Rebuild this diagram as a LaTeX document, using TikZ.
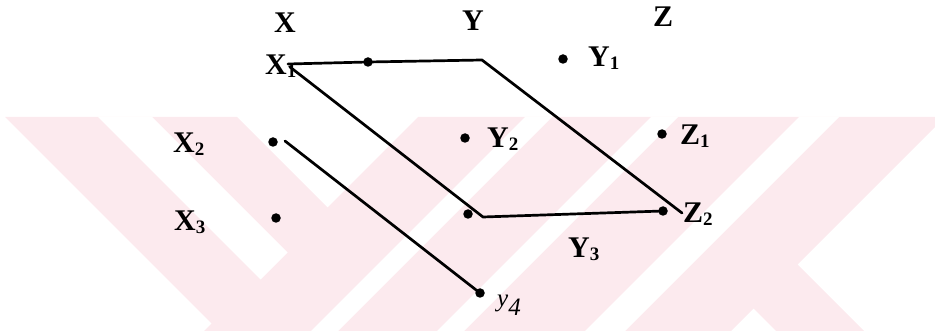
\documentclass[tikz,border=0pt]{standalone}
\usepackage{fontspec}
\setmainfont{Liberation Serif}
\definecolor{wm}{RGB}{252,234,238}
\tikzset{
  dot/.style={circle, fill=black, inner sep=0pt, minimum size=9.5pt},
  lab/.style={inner sep=0pt, anchor=base west, font=\fontsize{30}{30}\bfseries\selectfont},
  hand/.style={inner sep=0pt, anchor=base west, font=\fontsize{25}{25}\itshape\selectfont},
  conn/.style={line width=2.7pt, line join=round, line cap=round},
}
\newcommand{\sublab}[1]{\raisebox{-3pt}{\fontsize{19}{19}\selectfont #1}}
\begin{document}
\begin{tikzpicture}[x=1pt,y=-1pt]
\useasboundingbox (0,0) rectangle (935,331);
% watermark
\begin{scope}
\clip (0,0) rectangle (935,331);
\fill[wm] (5,117) -- (237,117) -- (451,331) -- (219,331) -- cycle;
\fill[wm] (418,117) -- (945,117) -- (731,331) -- (204,331) -- cycle;
\fill[wm] (709,264) -- (797,264) -- (864,331) -- (776,331) -- cycle;
\fill[white] (98,117) -- (152,117) -- (287.5,252.5) -- (260.5,279.5) -- cycle;
\fill[white] (525,117) -- (552,117) -- (338,331) -- (311,331) -- cycle;
\fill[white] (651,117) -- (678,117) -- (464,331) -- (437,331) -- cycle;
\fill[white] (799,117) -- (839,117) -- (625,331) -- (585,331) -- cycle;
\end{scope}
% labels
\node[lab] (lX) at (274,33) {X};
\node[lab] (lY) at (462,31) {Y};
\node[lab] (lZ) at (653,27) {Z};
\node[lab] (lX1) at (265,75) {X\sublab{1}};
\node[lab] (lY1) at (588,67) {Y\sublab{1}};
\node[lab] (lX2) at (173,153) {X\sublab{2}};
\node[lab] (lX3) at (174,231) {X\sublab{3}};
\node[lab] (lY2) at (487,148) {Y\sublab{2}};
\node[lab] (lZ1) at (680,145) {Z\sublab{1}};
\node[lab] (lZ2) at (683,223) {Z\sublab{2}};
\node[lab] (lY3) at (568,258) {Y\sublab{3}};
\node[hand] (lY4) at (497,307) {y\raisebox{-9pt}{4}};
% dots
\node[dot] (d1) at (368,62) {};
\node[dot] (y1) at (563,59) {};
\node[dot] (x2) at (273,142) {};
\node[dot] (x3) at (276,218) {};
\node[dot] (y2) at (465,138) {};
\node[dot] (z1) at (662,134) {};
\node[dot] (y3) at (468,214) {};
\node[dot] (z2) at (663,211) {};
\node[dot] (y4) at (480,293) {};
% corner points
\coordinate (s1) at (288,64);
\coordinate (s2) at (290,67);
\coordinate (c1) at (482,60);
\coordinate (e1) at (682,213);
\coordinate (c2) at (483,217);
\coordinate (s3) at (285,141);
% connectors
\draw[conn] (s1) -- (d1.center) -- (c1) -- (e1);
\draw[conn] (s2) -- (c2) -- (z2.center);
\draw[conn] (s3) -- (y4.center);
\end{tikzpicture}
\end{document}
